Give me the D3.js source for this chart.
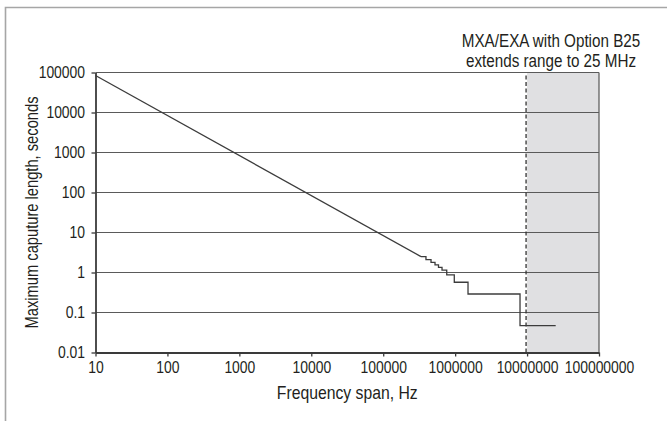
<!DOCTYPE html>
<html><head><meta charset="utf-8">
<script src="https://cdn.jsdelivr.net/npm/d3@7/dist/d3.min.js"></script>
<style>
html,body{margin:0;padding:0;background:#fff;}
svg{display:block;}
text{font-family:"Liberation Sans",Arial,sans-serif;fill:#231f20;}
</style></head>
<body>
<script>
// ---- data ----
const xTicks = [10, 100, 1000, 10000, 100000, 1000000, 10000000, 100000000];
const xTickLabels = ["10","100","1000","10000","100000","1000000","10000000","100000000"];
const yTicks = [100000, 10000, 1000, 100, 10, 1, 0.1, 0.01];
const yTickLabels = ["100000","10000","1000","100","10","1","0.1","0.01"];
// continuous part (log-log straight line)
const diagHz  = [10, 3.35e5];
const diagSec = [84000, 2.5];
// stepped part
const stepHz  = [3.35e5, 3.93e5, 4.62e5, 5.25e5, 5.87e5, 6.57e5, 7.64e5, 9.73e5, 1.51e6, 7.98e6, 2.5e7];
const stepSec = [2.5, 2.1, 1.8, 1.55, 1.35, 1.15, 0.87, 0.57, 0.29, 0.047, 0.047];
// option region
const optionRange = [1e7, 1e8];
const optionText = ["MXA/EXA with Option B25", "extends range to 25 MHz"];
const xTitle = "Frequency span, Hz";
const yTitle = "Maximum caputure length, seconds";

// ---- layout ----
const W = 667, H = 421;
const L = 95.5, R = 599, T = 72.5, B = 352.5;
const SX = 0.87; // horizontal condensing of text
const svg = d3.select("body").append("svg").attr("width", W).attr("height", H);

const x = d3.scaleLog().domain([10, 1e8]).range([L, R]);
const y = d3.scaleLog().domain([0.01, 100000]).range([B, T]);

// outer frame (top and left)
svg.append("path").attr("d", `M5.5,421 V7.5 H667`).attr("fill","none")
  .attr("stroke","#a6a6a6").attr("stroke-width",1.6);

// shaded option region
svg.append("rect").attr("x", x(optionRange[0])).attr("y", T)
  .attr("width", x(optionRange[1]) - x(optionRange[0])).attr("height", B - T)
  .attr("fill", "#e0e0e2");
svg.append("line").attr("x1", x(optionRange[1])).attr("x2", x(optionRange[1]))
  .attr("y1", T).attr("y2", B).attr("stroke", "#555").attr("stroke-width", 1.2);

// gridlines
svg.append("g").selectAll("line").data(yTicks.slice(0, -1)).join("line")
  .attr("x1", L).attr("x2", R).attr("y1", d => y(d)).attr("y2", d => y(d))
  .attr("stroke", "#5a5a5a").attr("stroke-width", 1.1);

// axes
const xAxis = d3.axisBottom(x).tickValues(xTicks).tickFormat((d,i) => xTickLabels[i])
  .tickSizeInner(4).tickSizeOuter(0).tickPadding(5);
const gx = svg.append("g").attr("transform", `translate(0,${B})`).call(xAxis);
const yAxis = d3.axisLeft(y).tickValues(yTicks).tickFormat((d,i) => yTickLabels[i])
  .tickSizeInner(4).tickSizeOuter(0).tickPadding(8);
const gy = svg.append("g").attr("transform", `translate(${L},0)`).call(yAxis);
[gx, gy].forEach(g => {
  g.select(".domain").attr("stroke", "#3a3a3a").attr("stroke-width", 1.8);
  g.selectAll(".tick line").attr("stroke", "#3a3a3a").attr("stroke-width", 1.3);
  g.selectAll(".tick text").style("font-size", "16px").attr("fill", "#231f20")
    .style("font-family", '"Liberation Sans",Arial,sans-serif')
    .attr("transform", `scale(${SX},1)`);
});

// dashed boundary
svg.append("line").attr("x1", x(optionRange[0]) - 1).attr("x2", x(optionRange[0]) - 1)
  .attr("y1", T + 3).attr("y2", B).attr("stroke", "#333").attr("stroke-width", 1.3)
  .attr("stroke-dasharray", "4,2.5");

// data line
const diag = diagHz.map((f, i) => [f, diagSec[i]]);
const steps = stepHz.map((f, i) => [f, stepSec[i]]);
svg.append("path").datum(diag)
  .attr("d", d3.line().x(d => x(d[0])).y(d => y(d[1])))
  .attr("fill", "none").attr("stroke", "#3c3c3c").attr("stroke-width", 1.3);
svg.append("path").datum(steps)
  .attr("d", d3.line().x(d => x(d[0])).y(d => y(d[1])).curve(d3.curveStepAfter))
  .attr("fill", "none").attr("stroke", "#3c3c3c").attr("stroke-width", 1.3);

// titles
svg.append("text").attr("transform", `translate(${(L + R) / 2},399) scale(0.9,1)`)
  .attr("text-anchor", "middle").style("font-size", "17.5px").text(xTitle);
svg.append("text").attr("transform", `translate(38,${(T + B) / 2}) rotate(-90) scale(0.84,1)`)
  .attr("text-anchor", "middle").style("font-size", "17.5px").text(yTitle);

// annotation
svg.append("g").selectAll("text").data(optionText).join("text")
  .attr("transform", (d, i) => `translate(551,${47 + i * 19.5}) scale(${SX},1)`)
  .attr("text-anchor", "middle").style("font-size", "17.5px").text(d => d);
</script>
</body></html>
